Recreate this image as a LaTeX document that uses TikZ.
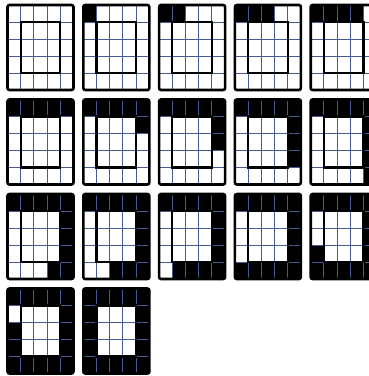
\documentclass[tikz,border=0pt]{standalone}
\usepackage{tikz}
\usetikzlibrary{calc}
\definecolor{gridblue}{RGB}{70,90,150}
\tikzset{
  cellgrid/.style={draw=gridblue, line width=0.9pt},
  frame/.style={draw=black, line width=2.6pt, rounded corners=2pt},
  core/.style={draw=black, line width=2.2pt},
  lit/.style={fill=black}
}

\begin{document}
\begin{tikzpicture}[x=1pt, y=-1pt]
  \useasboundingbox (0,0) rectangle (369,376);
  \clip (0,0) rectangle (369,376);

  % one panel per step, k cells of the border ring filled clockwise
  \foreach \k in {0,...,16}{
    \pgfmathtruncatemacro{\pcol}{mod(\k,5)}
    \pgfmathtruncatemacro{\prow}{div(\k,5)}
    \begin{scope}[shift={(7.5+75.8*\pcol,5+94.5*\prow)}, x=13.2pt, y=-17pt]
      \fill[white] (0,0) rectangle (5,5);
      % ring cells, in filling order
      \foreach \i/\cx/\cy in {1/0/0, 2/1/0, 3/2/0, 4/3/0, 5/4/0,
                              6/4/1, 7/4/2, 8/4/3, 9/4/4,
                              10/3/4, 11/2/4, 12/1/4, 13/0/4,
                              14/0/3, 15/0/2, 16/0/1}{
        \ifnum\i>\k\else
          \fill[lit] (\cx,\cy) rectangle ++(1,1);
        \fi
      }
      % grid lines
      \foreach \g in {1,...,4}{
        \draw[cellgrid] (\g,0) -- (\g,5);
        \draw[cellgrid] (0,\g) -- (5,\g);
      }
      \draw[core] (1,1) rectangle (4,4);
      \draw[frame] (0,0) rectangle (5,5);
    \end{scope}
  }
\end{tikzpicture}
\end{document}
